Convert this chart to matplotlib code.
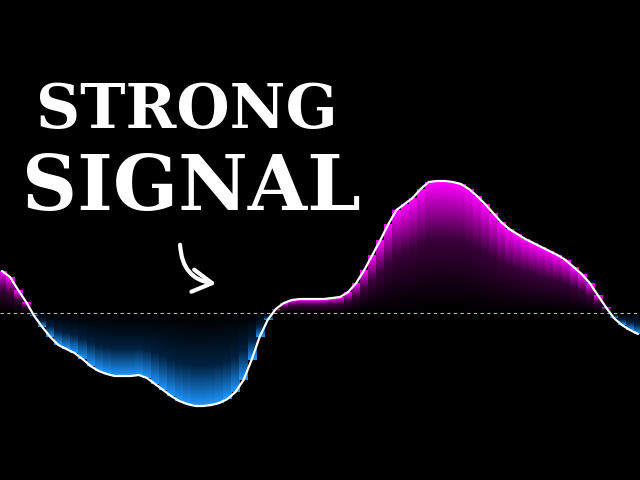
import numpy as np
import matplotlib
import matplotlib.pyplot as plt
from matplotlib.colors import LinearSegmentedColormap
from matplotlib.patches import FancyArrowPatch

# bar centres (px along the strip) and signal value at each bar
bar_x = np.arange(4, 640, 8)
signal = [
    42, 36, 23, 11, -3, -14, -24, -32, -36, -40,
    -46, -53, -58, -61, -63, -63, -63, -62, -65, -71,
    -77, -83, -88, -91, -93, -93, -92, -90, -86, -79,
    -67, -47, -24, -7, 4, 10, 13, 14, 14, 14,
    14, 15, 16, 21, 30, 43, 58, 73, 89, 103,
    109, 115, 124, 131, 132, 132, 131, 129, 124, 117,
    109, 100, 91, 84, 79, 74, 70, 66, 62, 58,
    53, 46, 39, 30, 18, 6, -5, -12, -17, -21,
]

title_top = "STRONG"
title_bottom = "SIGNAL"

BAR_W = 8
POS_CMAP = LinearSegmentedColormap.from_list("pos", ["#000000", "#3a003a", "#ff00ff"])
NEG_CMAP = LinearSegmentedColormap.from_list("neg", ["#000000", "#00203f", "#1e96ff"])

fig = plt.figure(figsize=(6.4, 4.8), dpi=100, facecolor="black")
ax = fig.add_axes([0, 0, 1, 1], facecolor="black")
ax.axis("off")

grad = np.linspace(0, 1, 64).reshape(-1, 1) ** 1.2

for x, v in zip(bar_x, signal):
    if v == 0:
        continue
    x0, x1 = x - BAR_W / 2, x + BAR_W / 2
    cmap = POS_CMAP if v > 0 else NEG_CMAP
    ax.imshow(grad, extent=(x0, x1, 0, v), origin="lower", cmap=cmap,
              aspect="auto", interpolation="bilinear", zorder=1)

# imshow resets the limits, so set them afterwards
ax.set_xlim(2, 638)
ax.set_ylim(-167, 313)

ax.axhline(0, color="#bbbbbb", lw=0.8, ls=(0, (3, 3)), zorder=2)
ax.plot(bar_x, signal, color="white", lw=1.6, solid_capstyle="round", zorder=3)

# headline text
fig.text(187 / 640, 1 - 111 / 480, title_top, color="white", family="DejaVu Serif",
         weight="bold", fontsize=44, ha="center", va="center")
fig.text(191 / 640, 1 - 189 / 480, title_bottom, color="white", family="DejaVu Serif",
         weight="bold", fontsize=55, ha="center", va="center")

# curved pointer arrow (open chevron head)
arrow = FancyArrowPatch((180 / 640, 1 - 242 / 480), (219 / 640, 1 - 284 / 480),
                        transform=fig.transFigure, connectionstyle="arc3,rad=0.45",
                        arrowstyle="->,head_length=7,head_width=4", color="white",
                        lw=3, capstyle="round", joinstyle="round", mutation_scale=2)
fig.patches.append(arrow)

fig.savefig("out.png", dpi=100, facecolor="black")
